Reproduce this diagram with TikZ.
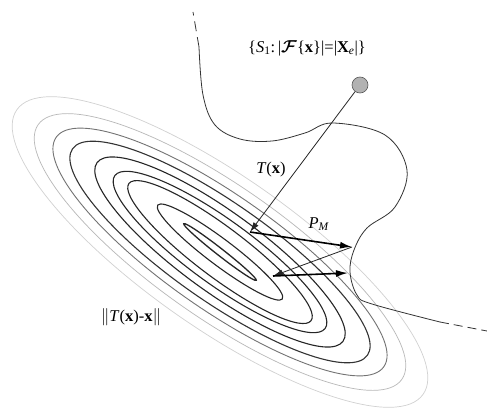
\documentclass[tikz,border=0pt]{standalone}
\usepackage{amsmath,bm}
\usepackage{fontspec}
\setmainfont{Liberation Serif}
\usetikzlibrary{arrows.meta}
\begin{document}
\begin{tikzpicture}[x=1pt,y=-1pt,
  curve/.style={draw=black!80, line width=0.8pt},
  thinarrow/.style={draw=black!85, line width=0.8pt, -{Latex[length=10pt,width=6pt]}},
  thickarrow/.style={draw=black, line width=1.6pt, -{Latex[length=12pt,width=7pt]}},
  dot/.style={circle, minimum size=16pt, inner sep=0pt, fill=gray!60, draw=gray!70!black, line width=0.6pt},
  lbl/.style={font=\fontsize{16.5}{19}\selectfont, inner sep=1pt}]
\useasboundingbox (0,0) rectangle (487,412);
\fill[white] (0,0) rectangle (487,412);
\coordinate (c) at (220,252);
% contour ellipses
\foreach \a/\b/\ang/\col/\w in {
  248/76/-35/black!18/0.7,
  222/66/-35/black!28/0.7,
  200/57/-35/black!55/0.9,
  180/49/-35/black!80/1.1,
  152/40/-36/black!85/1.1,
  130/32/-36/black!85/1.1,
  114/25/-37/black!85/1.1,
  78/13/-37/black!85/1.1,
  46/3.5/-38/black!85/1.3}
  \draw[draw=\col, line width=\w pt, rotate around={\ang:(c)}] (c) ellipse [x radius=\a pt, y radius=\b pt];
% surface S1
\draw[curve] plot[smooth, tension=0.6] coordinates {(199,47) (203,95) (215,125) (240,139) (272,141) (305,133) (333,123) (385,135) (407,170) (395,207) (367,228) (354,250) (350,272) (357,295) (372,304) (440,322)};
\draw[curve, dash pattern=on 10pt off 6pt] (199,47) -- (193,12);
\draw[curve, dash pattern=on 9pt off 5pt] (440,322) -- (487,331);
% nodes
\node[dot] (g) at (360,85) {};
\coordinate (tx) at (250,232);
\coordinate (pm) at (352,247);
\coordinate (x1) at (273,276);
\coordinate (pm2) at (348,273);
\draw[thinarrow] (g) -- (tx);
\draw[thickarrow] (tx) -- (pm);
\draw[thinarrow] (pm) -- (x1);
\draw[thickarrow] (x1) -- (pm2);
% labels
\node[lbl] (lS) at (307,48) {\{\textit{S}\textsubscript{1}:\,|$\bm{\mathcal{F}}$\{\textbf{x}\}|=|\textbf{X}\textsubscript{\textit{e}}|\}};
\node[lbl] (lT) at (271,170) {\textit{T}(\textbf{x})};
\node[lbl] (lP) at (319,224) {\textit{P}\textsubscript{\textit{M}}};
\node[lbl] (lN) at (131,317) {$\|$\textit{T}(\textbf{x})-\textbf{x}$\|$};
\end{tikzpicture}
\end{document}
